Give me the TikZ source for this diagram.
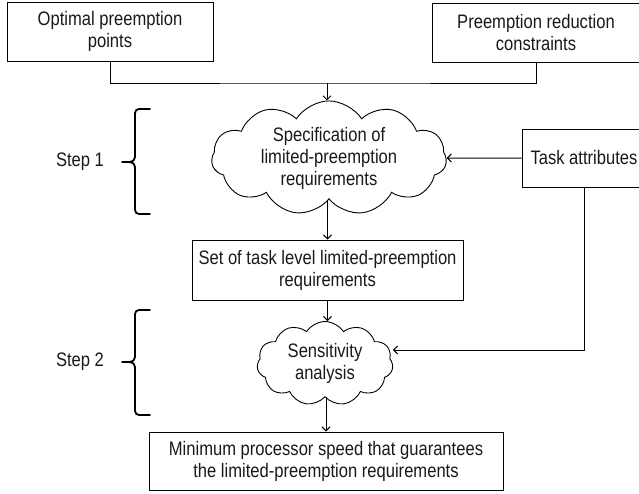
\documentclass[tikz,border=0pt]{standalone}
\usepackage{fontspec}
\setmainfont[FakeStretch=0.85]{Liberation Sans}
\usetikzlibrary{shapes.symbols,arrows.meta}
\begin{document}
\begin{tikzpicture}[x=1pt,y=-1pt,
  every node/.style={font=\fontsize{19.5}{22}\selectfont, align=center, text=black!90},
  box/.style={draw, line width=0.9pt, inner sep=0pt},
  cloudbox/.style={draw, line width=0.9pt, cloud, cloud puffs=11, cloud puff arc=115, cloud ignores aspect, inner sep=0pt},
  conn/.style={line width=1pt},
  arr/.style={line width=1pt, -{Straight Barb[length=4pt,width=8pt]}},
  bracepath/.style={line width=1.8pt, line cap=round}]
\useasboundingbox (0,0) rectangle (639,493);
% boxes
\node[box, minimum width=206pt, minimum height=59pt] (b1) at (110,31.5) {Optimal preemption\\points};
\node[box, minimum width=208pt, minimum height=59pt] (b2) at (536,32.5) {Preemption reduction\\constraints};
\node[cloudbox, minimum width=235pt, minimum height=109pt] (c1) at (329,158) {Specification of\\limited-preemption\\requirements};
\node[box, minimum width=124pt, minimum height=58pt] (task) at (584,158) {Task attributes};
\node[box, minimum width=271pt, minimum height=60pt] (set) at (327.5,270) {Set of task level limited-preemption\\requirements};
\node[cloudbox, minimum width=136pt, minimum height=84pt] (c2) at (325,363.5) {Sensitivity\\analysis};
\node[box, minimum width=354pt, minimum height=58pt] (fin) at (326,461) {Minimum processor speed that guarantees\\the limited-preemption requirements};
% step labels
\node (s1) at (80,162) {Step 1};
\node (s2) at (80,362) {Step 2};
% connectors
\coordinate (j) at (327,83);
\draw[conn] (b1.south) |- (j) -| (b2.south);
\draw[arr] (j) -- (j |- c1.north);
\draw[arr] (task.west) -- (c1.east);
\draw[arr] (c1.south -| set.north) -- (set.north);
\draw[arr] (set.south) -- (set.south |- c2.north);
\coordinate (k) at (584,350);
\draw[arr] (task.south) -- (k) -- (k -| c2.east);
\draw[arr] (c2.south -| fin.north) -- (fin.north);
% braces
\draw[bracepath] (150,109) -- (139,109) to[out=180,in=90] (135,113) -- (135,157) to[out=-90,in=0] (130,162) -- (122,162);
\draw[bracepath] (150,214) -- (139,214) to[out=180,in=-90] (135,210) -- (135,167) to[out=90,in=0] (130,162);
\draw[bracepath] (150,310) -- (139,310) to[out=180,in=90] (135,314) -- (135,357) to[out=-90,in=0] (130,362) -- (122,362);
\draw[bracepath] (150,415) -- (139,415) to[out=180,in=-90] (135,411) -- (135,367) to[out=90,in=0] (130,362);
\end{tikzpicture}
\end{document}
